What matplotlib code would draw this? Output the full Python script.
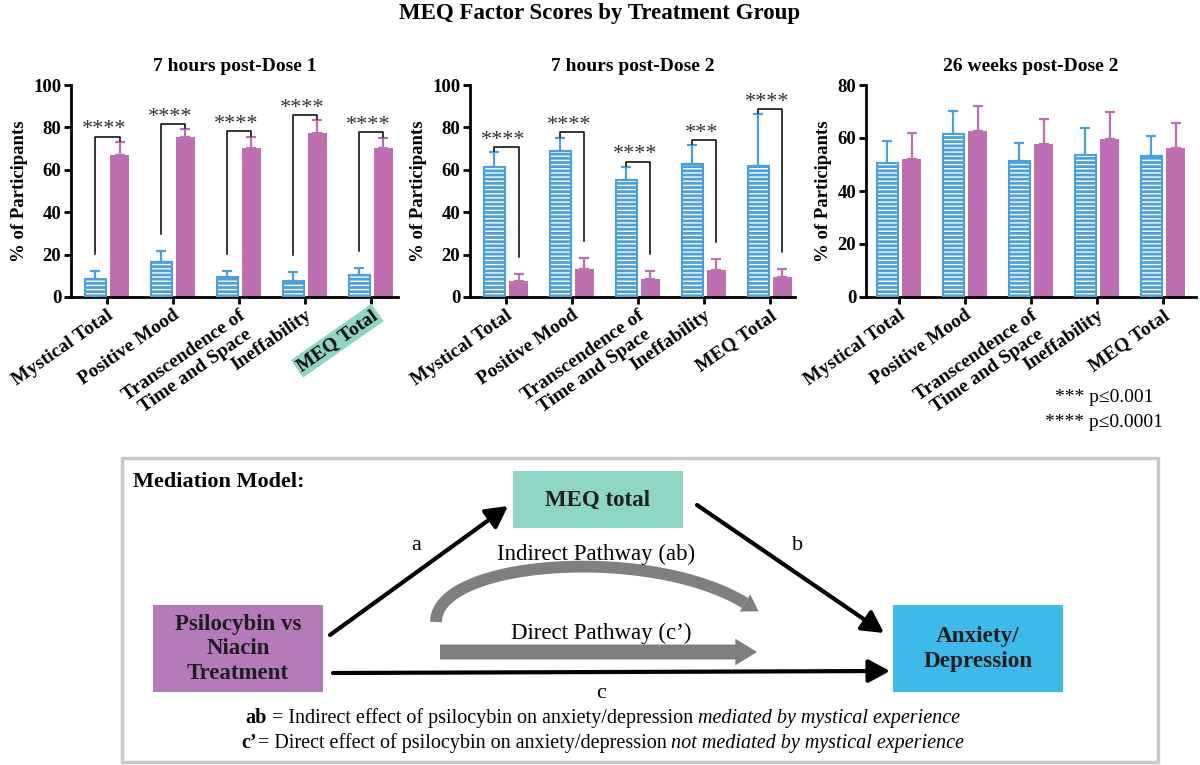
import numpy as np
import matplotlib
matplotlib.use('Agg')
import matplotlib.pyplot as plt
from matplotlib.patches import Rectangle, FancyArrowPatch, Polygon
from matplotlib.offsetbox import TextArea, HPacker, AnnotationBbox

plt.rcParams['font.family'] = ['Liberation Serif', 'DejaVu Serif']
plt.rcParams['hatch.linewidth'] = 1.0
plt.rcParams['hatch.color'] = 'white'

# datos
categorias = ['Mystical Total', 'Positive Mood', 'Transcendence of\nTime and Space',
              'Ineffability', 'MEQ Total']
titulos = ['7 hours post-Dose 1', '7 hours post-Dose 2', '26 weeks post-Dose 2']
y_max = [100, 100, 80]

# grupo azul (rayado)
azul_media = [[8.7, 16.5, 9.4, 7.6, 10.2],
              [61.4, 68.8, 55.4, 62.5, 61.7],
              [50.6, 61.5, 51.4, 53.5, 53.3]]
azul_err = [[3.4, 5.2, 2.9, 4.1, 3.7],
            [6.8, 6.3, 6.0, 9.2, 24.4],
            [8.3, 8.7, 6.8, 10.2, 7.4]]
# grupo rosa
rosa_media = [[67.1, 75.6, 70.1, 77.2, 70.4],
              [7.4, 13.1, 8.3, 12.6, 9.4],
              [52.1, 62.7, 57.9, 59.7, 56.2]]
rosa_err = [[6.1, 3.6, 5.5, 6.3, 4.7],
            [3.6, 5.3, 3.8, 5.5, 3.8],
            [9.6, 9.5, 9.2, 10.1, 9.3]]
estrellas = [['****', '****', '****', '****', '****'],
             ['****', '****', '****', '***', '****'],
             None]

AZUL = '#4aa0dc'
ROSA = '#bd6fb2'
GRIS = '#7f7f7f'
TINTA = '#1e1e1e'

fig = plt.figure(figsize=(12, 7.65), dpi=100)

# ejes para el diagrama (en pixeles)
axd = fig.add_axes([0, 0, 1, 1])
axd.set_xlim(0, 1200)
axd.set_ylim(765, 0)
axd.axis('off')

fig.text(0.5, 1 - 14 / 765, 'MEQ Factor Scores by Treatment Group', ha='center', va='center',
         fontsize=16.5, fontweight='bold')

posiciones = [(71, 398), (470, 795), (866, 1196)]
limites_x = [(-0.545, 4.41), (-0.545, 4.38), (-0.5, 4.5)]
x = np.arange(len(categorias))
for i in range(3):
    x0, x1 = posiciones[i]
    ax = fig.add_axes([x0 / 1200, 1 - 297 / 765, (x1 - x0) / 1200, 212 / 765])
    ax.patch.set_alpha(0)
    xa = x - 0.175
    xr = x + 0.19
    ax.bar(xa, azul_media[i], width=0.32, color=AZUL, edgecolor='white', hatch='----', linewidth=0, zorder=2)
    ax.bar(xa, azul_media[i], width=0.32, facecolor='none', edgecolor=AZUL, linewidth=1.5, zorder=3)
    ax.errorbar(xa, azul_media[i], yerr=[np.zeros(5), azul_err[i]], fmt='none', ecolor=AZUL,
                elinewidth=1.6, capsize=3.5, capthick=1.6, zorder=1)
    ax.bar(xr, rosa_media[i], width=0.29, color=ROSA, linewidth=0, zorder=2)
    ax.errorbar(xr, rosa_media[i], yerr=[np.zeros(5), rosa_err[i]], fmt='none', ecolor=ROSA,
                elinewidth=1.6, capsize=3.5, capthick=1.6, zorder=1)

    if estrellas[i] is not None:
        for j in range(5):
            ha_ = azul_media[i][j] + azul_err[i][j]
            hr = rosa_media[i][j] + rosa_err[i][j]
            top = max(ha_, hr) + 2.5
            la = ha_ + (0.5 if ha_ > hr else 8)
            lr = hr + (0.5 if hr > ha_ else 8)
            ax.plot([xa[j], xa[j], xr[j], xr[j]], [la, top, top, lr], color='black', lw=1.1,
                    clip_on=False, zorder=4)
            ax.annotate(estrellas[i][j], ((xa[j] + xr[j]) / 2 - 0.05, top), xytext=(0, 1.5),
                        textcoords='offset points', ha='center', va='baseline', fontsize=16,
                        color='#333333', annotation_clip=False)

    ax.set_xlim(*limites_x[i])
    ax.set_ylim(0, y_max[i])
    ax.set_yticks(np.arange(0, y_max[i] + 1, 20))
    ax.set_xticks(x)
    ax.set_xticklabels(categorias, rotation=35, ha='right', rotation_mode='anchor',
                       fontsize=14, fontweight='bold', multialignment='center')
    for t in ax.get_yticklabels():
        t.set_fontweight('bold')
        t.set_fontsize(13.5)
    ax.set_ylabel('% of Participants', fontsize=13.5, fontweight='bold', labelpad=4)
    ax.set_title(titulos[i], fontsize=14, fontweight='bold', pad=10)
    for s in ['top', 'right']:
        ax.spines[s].set_visible(False)
    for s in ['left', 'bottom']:
        ax.spines[s].set_linewidth(2)
    ax.tick_params(axis='both', width=2, length=5, pad=2)
    if i == 0:
        ax.get_xticklabels()[4].set_bbox(dict(facecolor='#8dd6c4', edgecolor='none', pad=1.5))

fig.text(1055 / 1200, 1 - 397 / 765, '*** p\u22640.001', ha='left', va='center', fontsize=14)
fig.text(1045 / 1200, 1 - 422 / 765, '**** p\u22640.0001', ha='left', va='center', fontsize=14)

# modelo de mediacion
axd.add_patch(Rectangle((122, 458), 1036, 304, facecolor='none', edgecolor='#c8c8c8', lw=2.5))
axd.text(133, 482, 'Mediation Model:', fontsize=16, fontweight='bold', va='center')

axd.add_patch(Rectangle((513, 471), 170, 57, facecolor='#8fd5c4', edgecolor='none'))
axd.text(598, 500, 'MEQ total', fontsize=16.5, fontweight='bold', ha='center', va='center', color=TINTA)
axd.add_patch(Rectangle((153, 605), 170, 87, facecolor='#b57bb8', edgecolor='none'))
axd.text(238, 649, 'Psilocybin vs\nNiacin\nTreatment', fontsize=16.5, fontweight='bold',
         ha='center', va='center', linespacing=1.2, color=TINTA)
axd.add_patch(Rectangle((893, 605), 170, 87, facecolor='#3db9ea', edgecolor='none'))
axd.text(978, 649, 'Anxiety/\nDepression', fontsize=16.7, fontweight='bold',
         ha='center', va='center', linespacing=1.25, color=TINTA)

flecha = dict(arrowstyle='-|>,head_length=0.65,head_width=0.35', mutation_scale=20,
              color='black', lw=3, shrinkA=0, shrinkB=0)
axd.add_patch(FancyArrowPatch((330, 635), (508, 506), **flecha))
axd.add_patch(FancyArrowPatch((697, 505), (884, 633), **flecha))
axd.add_patch(FancyArrowPatch((333, 673), (890, 671), **flecha))
axd.text(416, 545, 'a', fontsize=16, ha='center', va='center')
axd.text(798, 545, 'b', fontsize=16, ha='center', va='center')
axd.text(601, 694, 'c', fontsize=16, ha='center', va='center')

# flecha curva (via indirecta)
p0, p1, p2, p3 = (np.array(p, float) for p in [(436, 622), (436, 560), (650, 545), (745, 603)])
t = np.linspace(0, 1, 80)[:, None]
curva = (1 - t) ** 3 * p0 + 3 * (1 - t) ** 2 * t * p1 + 3 * (1 - t) * t ** 2 * p2 + t ** 3 * p3
axd.plot(curva[:, 0], curva[:, 1], color=GRIS, lw=8.5, solid_capstyle='butt')
d = (p3 - p2) / np.linalg.norm(p3 - p2)
n = np.array([-d[1], d[0]])
axd.add_patch(Polygon([p3 + n * 10, p3 + d * 16, p3 - n * 10], closed=True,
                      facecolor=GRIS, edgecolor='none'))
axd.add_patch(FancyArrowPatch((440, 652), (757, 652),
                              arrowstyle='simple,head_length=1.3,head_width=1.6,tail_width=0.9',
                              mutation_scale=12, color=GRIS, lw=0, shrinkA=0, shrinkB=0))
axd.text(596, 554, 'Indirect Pathway (ab)', fontsize=16.5, ha='center', va='center')
axd.text(601, 633, 'Direct Pathway (c\u2019)', fontsize=16.5, ha='center', va='center')


def linea(partes, y):
    hijos = [TextArea(t, textprops=dict(fontsize=14.5, fontweight=w, fontstyle=s))
             for t, w, s in partes]
    caja = HPacker(children=hijos, pad=0, sep=0, align='baseline')
    ab = AnnotationBbox(caja, (603, y), xycoords='data', frameon=False, pad=0,
                        box_alignment=(0.5, 0.5))
    axd.add_artist(ab)


linea([('ab', 'bold', 'normal'),
       (' = Indirect effect of psilocybin on anxiety/depression ', 'normal', 'normal'),
       ('mediated by mystical experience', 'normal', 'italic')], 718)
linea([('c\u2019', 'bold', 'normal'),
       ('= Direct effect of psilocybin on anxiety/depression ', 'normal', 'normal'),
       ('not mediated by mystical experience', 'normal', 'italic')], 743)

fig.savefig('out.png', dpi=100)
